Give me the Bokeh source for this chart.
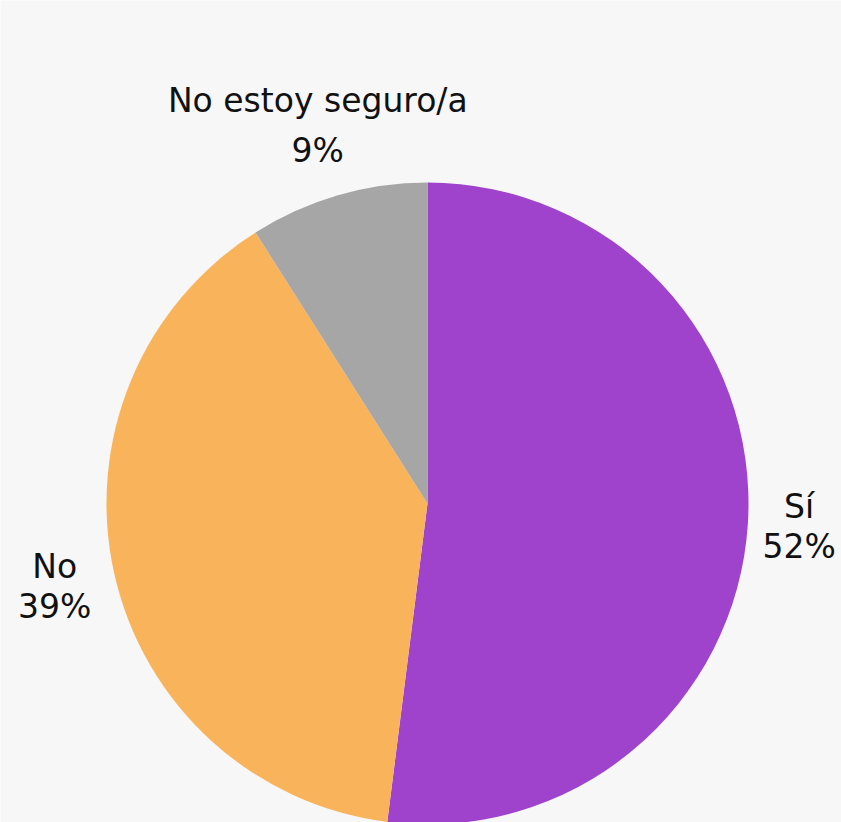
import math
from bokeh.plotting import figure
from bokeh.models import ColumnDataSource
from bokeh.core.properties import value
from bokeh.embed import file_html
from bokeh.resources import INLINE

categories = ["Sí", "No", "No estoy seguro/a"]
percents = [52, 39, 9]
colors = ["#9f43cc", "#f9b35b", "#a6a6a6"]
label_dist = [1.16, 1.19, 1.225]
label_gap = [20, 20, 25]

W, H = 841, 822
p = figure(width=W, height=H, x_range=(0, W), y_range=(822 - H, 822),
           output_backend="svg", toolbar_location=None, min_border=0,
           background_fill_color="#f7f7f7", border_fill_color="#f7f7f7")
p.axis.visible = False
p.grid.visible = False
p.outline_line_color = None

cx, cy, R = 427, 822 - 503, 321
total = sum(percents)
starts, ends, lx, ly = [], [], [], []
acc = 0.0
for v, d in zip(percents, label_dist):
    a0 = math.pi / 2 - 2 * math.pi * acc / total
    acc += v
    a1 = math.pi / 2 - 2 * math.pi * acc / total
    starts.append(a0)
    ends.append(a1)
    mid = (a0 + a1) / 2
    lx.append(cx + d * R * math.cos(mid))
    ly.append(cy + d * R * math.sin(mid))

src = ColumnDataSource(dict(start=starts, end=ends, color=colors,
                            name=categories, pct=[f"{v}%" for v in percents],
                            lx=lx, ly=ly,
                            up=[-g for g in label_gap], down=label_gap))
p.wedge(x=cx, y=cy, radius=R, start_angle="start", end_angle="end",
        direction="clock", fill_color="color", line_color=None, source=src)

p.text(x="lx", y="ly", text="name", source=src, y_offset="up",
       text_align="center", text_baseline="middle",
       text_font=value("DejaVu Sans"), text_font_size="33px", text_color="#111111")
p.text(x="lx", y="ly", text="pct", source=src, y_offset="down",
       text_align="center", text_baseline="middle",
       text_font=value("DejaVu Sans"), text_font_size="33px", text_color="#111111")

open("out.html", "w").write(file_html(p, INLINE))
